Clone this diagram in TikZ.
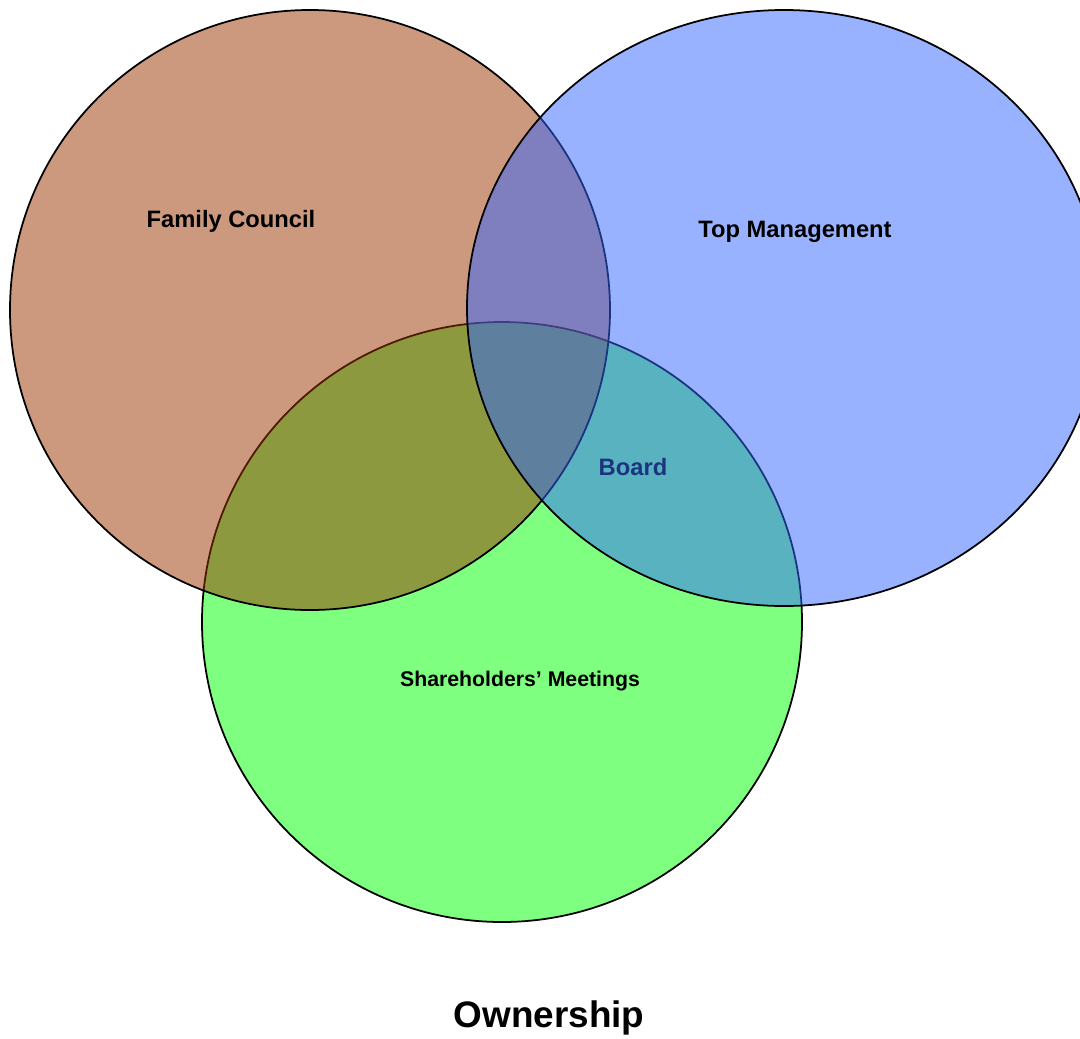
\documentclass[tikz,border=0pt]{standalone}
\usepackage{fontspec}
\setmainfont{Liberation Sans}

\definecolor{famcolor}{RGB}{153,51,0}
\definecolor{mgmtcolor}{RGB}{51,102,255}
\definecolor{sharecolor}{RGB}{0,255,0}
\definecolor{boardtext}{RGB}{28,52,128}

\begin{document}
\begin{tikzpicture}[
    x=0.02cm, y=-0.02cm,
    ring/.style={draw=black, line width=1pt, fill opacity=0.5},
    title/.style={anchor=base, font=\fontsize{13.5}{16}\selectfont\bfseries},
    caption/.style={anchor=base, font=\fontsize{21}{25}\selectfont\bfseries}
]
\useasboundingbox (0,0) rectangle (1080,1039);

% the three circles, green at the bottom
\begin{scope}
\clip (0,0) rectangle (1080,1039);
\draw[ring, fill=sharecolor] (502,622) circle [radius=300];
\draw[ring, fill=famcolor] (310,310) circle [radius=300];
\draw[ring, fill=mgmtcolor] (784,308) ellipse [x radius=317, y radius=298];
\end{scope}

% labels
\node[title] (family) at (231,227) {Family Council};
\node[title] (mgmt) at (795,237) {Top Management};
\node[title, font=\fontsize{12.1}{14}\selectfont\bfseries] (share) at (520,686) {Shareholders’ Meetings};
\node[title, text=boardtext] (board) at (633,475) {Board};
\node[caption] (owner) at (549,1027) {Ownership};

\end{tikzpicture}
\end{document}
